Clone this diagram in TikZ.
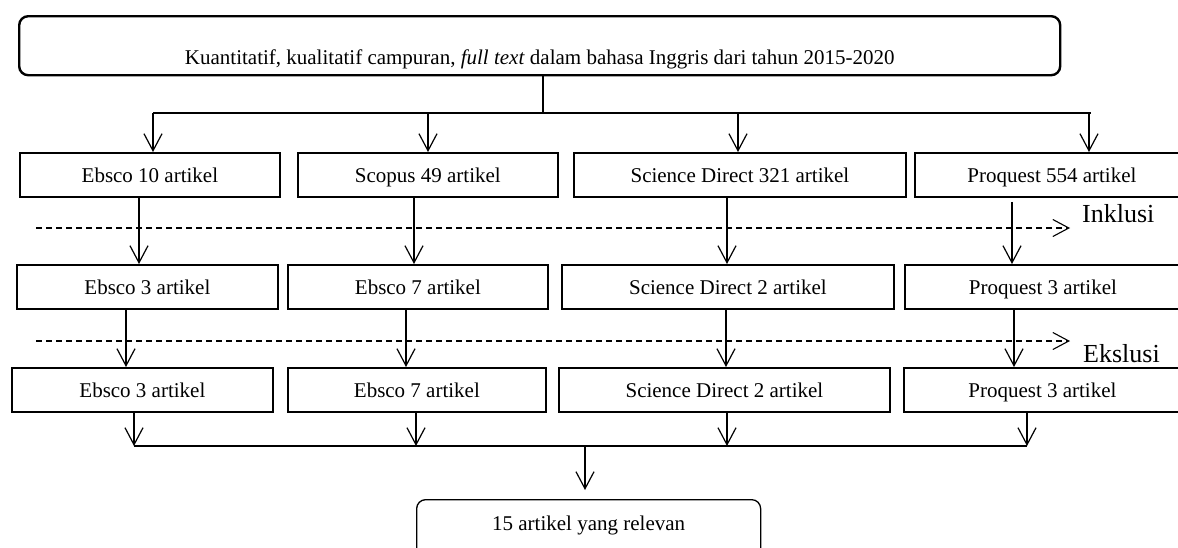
\documentclass[tikz,border=0pt]{standalone}
\usepackage{fontspec}
\setmainfont{Liberation Serif}
\usetikzlibrary{arrows.meta,calc}
\begin{document}
\begin{tikzpicture}[x=1pt,y=-1pt,
  every node/.style={font=\fontsize{21}{25}\selectfont},
  box/.style={draw, line width=1.8pt, inner xsep=0pt, inner ysep=0pt, anchor=north west, text height=29.5pt, text depth=14.5pt, align=center},
  topbox/.style={draw, line width=2.4pt, rounded corners=9pt, inner xsep=0pt, inner ysep=0pt, anchor=north west, text height=48pt, text depth=11pt},
  botbox/.style={draw, line width=1.3pt, rounded corners=9pt, inner xsep=0pt, inner ysep=0pt, anchor=north west, text height=31pt, text depth=30pt},
  conn/.style={line width=1.2pt},
  arr/.style={line width=1.2pt, -{Straight Barb[length=17pt,width=18pt,line width=1.2pt]}},
  dashline/.style={line width=1.1pt, dash pattern=on 6pt off 4pt, -{Straight Barb[length=16pt,width=17pt,line width=1.1pt]}},
  lab/.style={font=\fontsize{26}{30}\selectfont, inner sep=0pt, anchor=base west}
]
\useasboundingbox (0,0) rectangle (1178,547);
\clip (0,0) rectangle (1178,547);
\fill[white] (0,0) rectangle (1178,547);

% top box
\node[topbox, minimum width=1041pt] (top) at (18,15) {Kuantitatif, kualitatif campuran, \textit{full text} dalam bahasa Inggris dari tahun 2015-2020};

% row 1
\node[box, minimum width=260pt] (e1) at (19,152) {Ebsco 10 artikel};
\node[box, minimum width=260pt] (s1) at (297,152) {Scopus 49 artikel};
\node[box, minimum width=332pt] (d1) at (573,152) {Science Direct 321 artikel};
\node[box, minimum width=274pt] (p1) at (914,152) {Proquest 554 artikel};

% row 2
\node[box, minimum width=261pt] (e2) at (16,264) {Ebsco 3 artikel};
\node[box, minimum width=260pt] (s2) at (287,264) {Ebsco 7 artikel};
\node[box, minimum width=332pt] (d2) at (561,264) {Science Direct 2 artikel};
\node[box, minimum width=276pt] (p2) at (904,264) {Proquest 3 artikel};

% row 3
\node[box, minimum width=261pt] (e3) at (11,367) {Ebsco 3 artikel};
\node[box, minimum width=258pt] (s3) at (287,367) {Ebsco 7 artikel};
\node[box, minimum width=331pt] (d3) at (558,367) {Science Direct 2 artikel};
\node[box, minimum width=277pt] (p3) at (903,367) {Proquest 3 artikel};

% bottom box
\node[botbox, minimum width=344pt] (bot) at (416,499) {15 artikel yang relevan};

% top distribution
\coordinate (j0) at (543,113);
\coordinate (a1) at (153,113);
\coordinate (a2) at (428,113);
\coordinate (a3) at (738,113);
\coordinate (a4) at (1089,113);
\draw[conn] (top.south -| j0) -- (j0);
\draw[conn] (a1) -- ($(a4)+(2,0)$);
\draw[arr] (a1) -- (a1 |- e1.north);
\draw[arr] (a2) -- (a2 |- s1.north);
\draw[arr] (a3) -- (a3 |- d1.north);
\draw[arr] (a4) -- (a4 |- p1.north);

% row1 -> row2
\coordinate (b1) at (139,0);
\coordinate (b2) at (414,0);
\coordinate (b3) at (727,0);
\coordinate (b4) at (1012,0);
\draw[arr] (e1.south -| b1) -- (e2.north -| b1);
\draw[arr] (s1.south -| b2) -- (s2.north -| b2);
\draw[arr] (d1.south -| b3) -- (d2.north -| b3);
\draw[arr] ($(p1.south -| b4)+(0,4)$) -- (p2.north -| b4);

% inclusion line
\coordinate (il) at (36,228);
\coordinate (ir) at (1070,228);
\draw[dashline] (il) -- (ir);
\node[lab] (inkl) at (1082,222) {Inklusi};

% row2 -> row3
\coordinate (c1) at (126,0);
\coordinate (c2) at (406,0);
\coordinate (c3) at (726,0);
\coordinate (c4) at (1014,0);
\draw[arr] (e2.south -| c1) -- (e3.north -| c1);
\draw[arr] (s2.south -| c2) -- (s3.north -| c2);
\draw[arr] (d2.south -| c3) -- (d3.north -| c3);
\draw[arr] (p2.south -| c4) -- (p3.north -| c4);

% exclusion line
\coordinate (el) at (36,341);
\coordinate (er) at (1070,341);
\draw[dashline] (el) -- (er);
\node[lab] (eksl) at (1083,362) {Ekslusi};

% row3 -> bottom line
\coordinate (g1) at (134,446);
\coordinate (g2) at (416,446);
\coordinate (g3) at (727,446);
\coordinate (g4) at (1027,446);
\coordinate (m) at (585,446);
\draw[conn] (g1) -- (g4);
\draw[arr] (e3.south -| g1) -- (g1);
\draw[arr] (s3.south -| g2) -- (g2);
\draw[arr] (d3.south -| g3) -- (g3);
\draw[arr] (p3.south -| g4) -- (g4);
\draw[arr] (m) -- ($(m |- bot.north)+(0,-9)$);
\end{tikzpicture}
\end{document}
